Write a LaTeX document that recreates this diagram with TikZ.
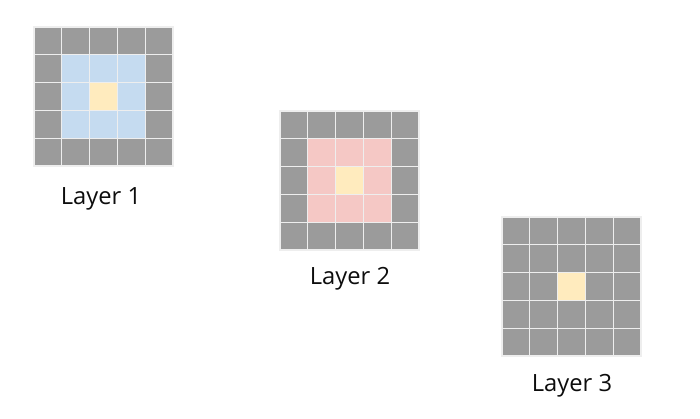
\documentclass[tikz,border=0pt]{standalone}
\usepackage{fontspec}
\setmainfont{Open Sans}
\usepackage{tikz}
\usetikzlibrary{positioning}
\definecolor{cellgray}{HTML}{9B9B9B}
\definecolor{cellblue}{HTML}{C5DBF0}
\definecolor{cellpink}{HTML}{F5C8C5}
\definecolor{cellyellow}{HTML}{FFEBBE}
\definecolor{gridline}{HTML}{EEEEEE}

\begin{document}
\begin{tikzpicture}[x=0.75pt,y=-0.75pt,
cell/.style={draw=gridline,line width=1pt},
lab/.style={anchor=base,font=\fontsize{17.8}{20}\selectfont,text=black!95,inner sep=0pt}]
\useasboundingbox[fill=white] (0,0) rectangle (700,418);
% three 5x5 layers, centre cell and first ring coloured
\foreach \gx/\gy/\ring in {34/27/cellblue,280/111/cellpink,502/217/cellgray}{
  \foreach \i in {0,...,4}{
    \foreach \j in {0,...,4}{
      \pgfmathtruncatemacro\d{max(abs(\i-2),abs(\j-2))}
      \ifcase\d \def\c{cellyellow}\or \edef\c{\ring}\else \def\c{cellgray}\fi
      \path[cell,fill=\c] (\gx+\i*27.8,\gy+\j*27.8) rectangle ++(27.8,27.8);
    }
  }
}
\node[lab] (layer1) at (101,204) {Layer 1};
\node[lab] (layer2) at (350,284) {Layer 2};
\node[lab] (layer3) at (572,391) {Layer 3};
\end{tikzpicture}
\end{document}
